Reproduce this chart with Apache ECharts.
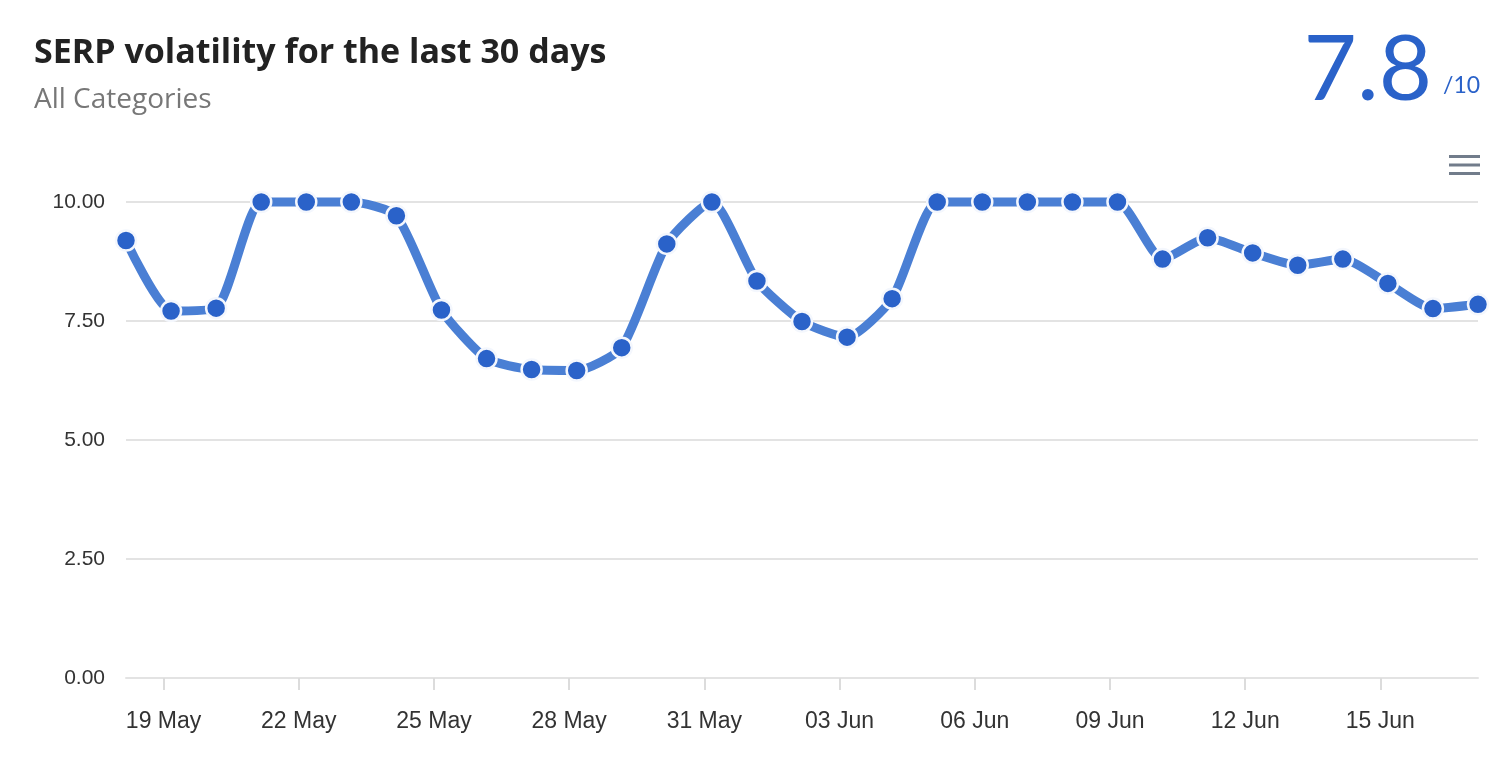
<!DOCTYPE html>
<html>
<head>
<meta charset="utf-8">
<style>
  html, body { margin: 0; padding: 0; background: #fff; }
  #chart { width: 1512px; height: 764px; }
</style>
<script src="https://cdn.jsdelivr.net/npm/echarts@6/dist/echarts.min.js"></script>
</head>
<body>
<div id="chart"></div>
<script>
const chartTitle = 'SERP volatility for the last 30 days';
const chartSubtitle = 'All Categories';
const score = '7.8';
const scoreMax = '/10';

const dates = [
  '2024-05-18T04:00Z','2024-05-19T04:00Z','2024-05-20T04:00Z','2024-05-21T04:00Z','2024-05-22T04:00Z',
  '2024-05-23T04:00Z','2024-05-24T04:00Z','2024-05-25T04:00Z','2024-05-26T04:00Z','2024-05-27T04:00Z',
  '2024-05-28T04:00Z','2024-05-29T04:00Z','2024-05-30T04:00Z','2024-05-31T04:00Z','2024-06-01T04:00Z',
  '2024-06-02T04:00Z','2024-06-03T04:00Z','2024-06-04T04:00Z','2024-06-05T04:00Z','2024-06-06T04:00Z',
  '2024-06-07T04:00Z','2024-06-08T04:00Z','2024-06-09T04:00Z','2024-06-10T04:00Z','2024-06-11T04:00Z',
  '2024-06-12T04:00Z','2024-06-13T04:00Z','2024-06-14T04:00Z','2024-06-15T04:00Z','2024-06-16T04:00Z',
  '2024-06-17T04:00Z'
];
const volatility = [
  9.19, 7.71, 7.77, 10.0, 10.0, 10.0, 9.71, 7.73, 6.71, 6.48,
  6.46, 6.94, 9.12, 10.0, 8.34, 7.49, 7.16, 7.97, 10.0, 10.0,
  10.0, 10.0, 10.0, 8.80, 9.25, 8.93, 8.67, 8.80, 8.29, 7.76,
  7.85
];
const tickDates = ['2024-05-19','2024-05-22','2024-05-25','2024-05-28','2024-05-31',
                   '2024-06-03','2024-06-06','2024-06-09','2024-06-12','2024-06-15'];
const tickLabels = ['19 May','22 May','25 May','28 May','31 May',
                    '03 Jun','06 Jun','09 Jun','12 Jun','15 Jun'];
const yTicks = [0, 2.5, 5, 7.5, 10];

const times = dates.map(d => Date.parse(d));
const tickTimes = tickDates.map(d => Date.parse(d + 'T00:00Z'));
const seriesData = times.map((t, i) => [t, volatility[i]]);

const chart = echarts.init(document.getElementById('chart'), null, { renderer: 'canvas' });
const blue = '#2a62c9';

chart.setOption({
  animation: false,
  backgroundColor: '#fff',
  title: {
    text: chartTitle,
    subtext: chartSubtitle,
    left: 29,
    top: 31,
    itemGap: 16,
    textStyle: { fontFamily: 'Open Sans', fontWeight: 'bold', fontSize: 34, color: '#222' },
    subtextStyle: { fontFamily: 'Open Sans', fontSize: 28, color: '#777' }
  },
  graphic: [
    {
      type: 'text', right: 80, top: 24,
      style: { text: score, fontFamily: 'Lato', fontWeight: 'normal', fontSize: 92, fill: blue }
    },
    {
      type: 'text', left: 1443, top: 74,
      style: { text: scoreMax, fontFamily: 'Lato', fontSize: 23, fill: blue }
    },
    { type: 'rect', shape: { x: 1449, y: 155, width: 31, height: 3 }, style: { fill: '#717c8b' } },
    { type: 'rect', shape: { x: 1449, y: 163.5, width: 31, height: 3 }, style: { fill: '#717c8b' } },
    { type: 'rect', shape: { x: 1449, y: 172, width: 31, height: 3 }, style: { fill: '#717c8b' } }
  ],
  grid: { left: 126, right: 34, top: 202, bottom: 86, containLabel: false },
  xAxis: {
    type: 'value',
    min: times[0],
    max: times[times.length - 1],
    splitLine: { show: false },
    axisLine: { show: true, lineStyle: { color: '#e3e3e3', width: 2 } },
    axisTick: {
      show: true, customValues: tickTimes, length: 12,
      lineStyle: { color: '#dcdcdc', width: 2 }
    },
    axisLabel: {
      customValues: tickTimes,
      margin: 32,
      fontFamily: 'Liberation Sans', fontSize: 23, color: '#333',
      formatter: v => {
        const i = tickTimes.indexOf(v);
        return i >= 0 ? tickLabels[i] : '';
      }
    }
  },
  yAxis: {
    type: 'value',
    min: 0, max: 10, interval: 2.5,
    axisLine: { show: false },
    axisTick: { show: false },
    splitLine: { lineStyle: { color: '#e3e3e3', width: 2 } },
    axisLabel: {
      margin: 21,
      fontFamily: 'Liberation Sans', fontSize: 21, color: '#333',
      padding: [0, 0, 8, 0],
      formatter: v => (yTicks.indexOf(v) >= 0 ? v.toFixed(2) : '')
    }
  },
  series: [{
    type: 'line',
    data: seriesData,
    smooth: 0.2,
    clip: false,
    symbol: 'circle',
    symbolSize: 20,
    lineStyle: { color: '#4a7fd4', width: 9 },
    itemStyle: { color: blue, borderColor: '#f4f7fd', borderWidth: 2.5 },
    z: 3
  }]
});
</script>
</body>
</html>
